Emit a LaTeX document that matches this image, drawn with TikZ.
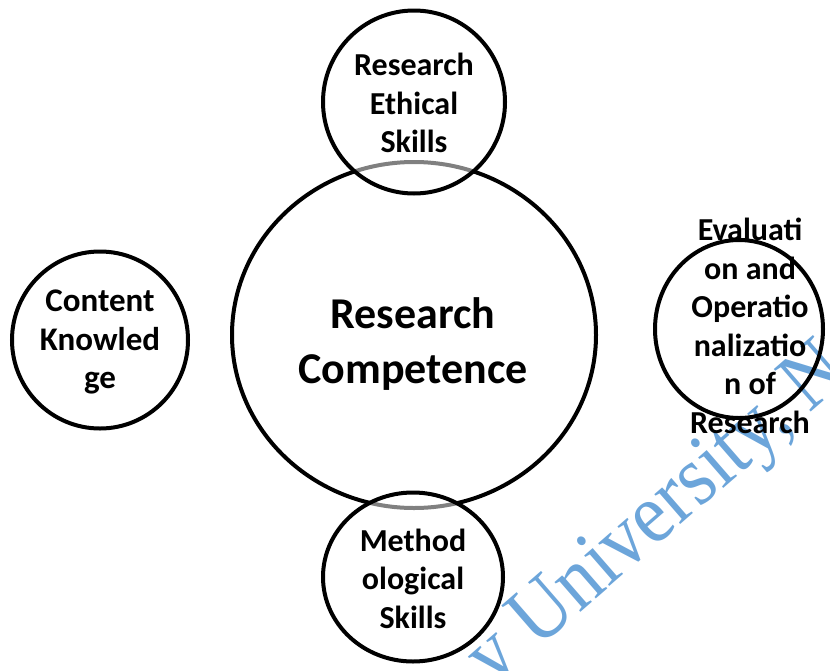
\documentclass[tikz,border=0pt]{standalone}
\usepackage{fontspec}
\setmainfont{Carlito}
\newfontfamily\wmserif{Liberation Serif}
\usetikzlibrary{shapes.geometric}
\definecolor{wmblue}{RGB}{108,165,218}
\begin{document}
\begin{tikzpicture}[x=1pt,y=-1pt,
  ring/.style={ellipse, draw=black, line width=4pt, inner sep=0pt},
  overlapring/.style={ring, fill=white, fill opacity=0.5},
  smalltext/.style={align=center, inner sep=0pt,
    font=\bfseries\fontsize{32}{38.5}\selectfont},
  bigtext/.style={align=center, inner sep=0pt,
    font=\bfseries\fontsize{44}{55}\selectfont},
  watermark/.style={inner sep=0pt, text=wmblue, rotate=41, xscale=0.9,
    font=\wmserif\fontsize{86}{86}\selectfont}]
\useasboundingbox (0,0) rectangle (830,670);

% faint watermark behind the diagram
\begin{scope}
  \clip (0,0) rectangle (830,670);
  \node[watermark, anchor=base west] (wm) at (537,650)
    {\llap{y }University,\rlap{ N}};
\end{scope}

% central ring
\node[ring, minimum width=364pt, minimum height=346pt] (core) at (414,335) {};

% outer rings
\node[overlapring, minimum width=182pt, minimum height=183pt] (ethics) at (414,102) {};
\node[overlapring, minimum width=180pt, minimum height=169pt] (method) at (413,577) {};
\node[ring, minimum width=176pt, minimum height=177pt] (content) at (100,340) {};
\node[ring, minimum width=168pt, minimum height=178pt] (evalring) at (739,329) {};

% labels
\node[bigtext] (coretext) at (413,344) {Research\\Competence};
\node[smalltext] (ethicstext) at (414,103) {Research\\Ethical\\Skills};
\node[smalltext] (methodtext) at (413,578.5) {Method\\ological\\Skills};
\node[smalltext, font=\bfseries\fontsize{33}{38.5}\selectfont] (contenttext)
  at (100,342) {Content\\Knowled\\ge};
\node[smalltext] (evaltext) at (750,326)
  {Evaluati\\on and\\Operatio\\nalizatio\\n of\\Research};
\end{tikzpicture}
\end{document}
